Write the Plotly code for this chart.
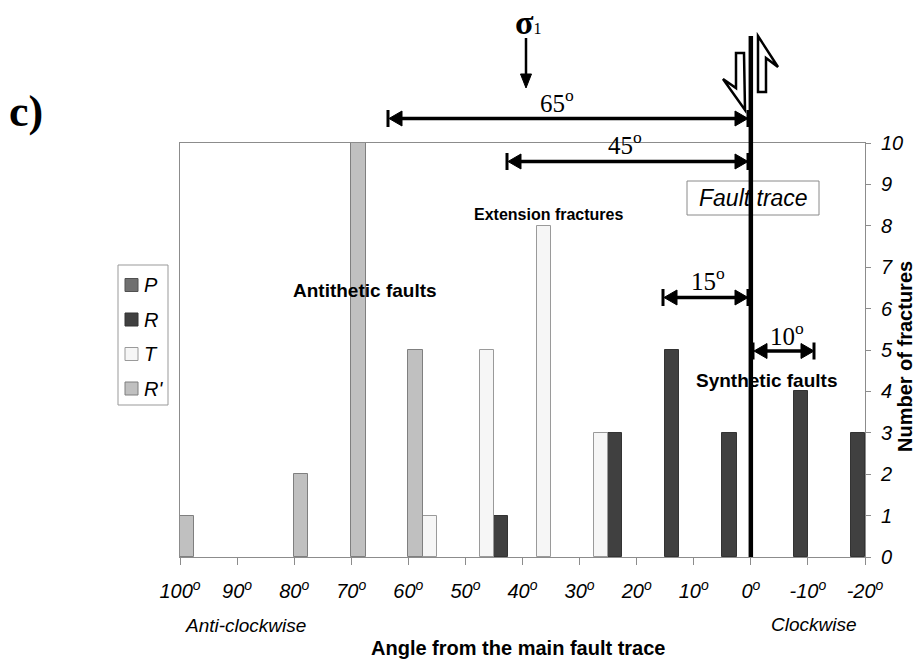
import plotly.graph_objects as go

# ---------------- data ----------------
# bins of 10 degrees, identified by their centre angle (100..-20 axis)
bin_centres = [95, 85, 75, 65, 55, 45, 35, 25, 15, 5, -5, -15]
p_counts = [None, None, None, None, None, None, None, None, None, None, None, None]
r_counts = [None, None, None, None, None, 1, None, 3, 5, 3, None, None]
t_counts = [None, None, None, None, 1, 5, 8, 3, None, None, None, None]
rprime_counts = [1, None, 2, 10, 5, None, None, None, None, None, None, None]
# R fractures on the clockwise side (drawn in the last slot of their bins)
r_clockwise_counts = [None, None, None, None, None, None, None, None, None, None, 4, 3]

tick_angles = [100, 90, 80, 70, 60, 50, 40, 30, 20, 10, 0, -10, -20]
tick_labels = [f"{a}<sup>o</sup>" for a in tick_angles]
y_ticks = [0, 1, 2, 3, 4, 5, 6, 7, 8, 9, 10]

series_names = ["P", "R", "T", "R'"]
fill_colors = {"P": "#707070", "R": "#404040", "T": "#f6f6f6", "R'": "#c0c0c0"}
line_colors = {"P": "#505050", "R": "#333333", "T": "#9a9a9a", "R'": "#7f7f7f"}

SANS = "Liberation Sans, Arial, sans-serif"
SERIF = "Liberation Serif, Times New Roman, serif"

W, H = 918, 661
ML, MR, MT, MB = 180, 53, 143, 104
PW, PH = W - ML - MR, H - MT - MB


def X(px):
    return (px - ML) / PW


def Y(py):
    return (H - MB - py) / PH


def poly(points):
    return "M " + " L ".join(f"{X(x):.5f},{Y(y):.5f}" for x, y in points) + " Z"


fig = go.Figure()

trace_data = [
    ("P", p_counts, "P"),
    ("R", r_counts, "R"),
    ("T", t_counts, "T"),
    ("R'", rprime_counts, "R'"),
    ("R", r_clockwise_counts, "P"),
]
for name, vals, group in trace_data:
    fig.add_trace(go.Bar(
        x=bin_centres, y=vals, name=name, offsetgroup=group,
        marker=dict(color=fill_colors[name], line=dict(color=line_colors[name], width=1)),
        showlegend=False, hoverinfo="skip",
    ))

shapes = []
annotations = []

# legend (manual)
shapes.append(dict(type="rect", xref="paper", yref="paper", x0=X(118), x1=X(168), y0=Y(265), y1=Y(405),
                   line=dict(color="#999999", width=1), fillcolor="white", layer="above"))
for i, name in enumerate(series_names):
    cy = 285 + i * 34.5
    shapes.append(dict(type="rect", xref="paper", yref="paper", x0=X(125), x1=X(138),
                       y0=Y(cy - 6.5), y1=Y(cy + 6.5),
                       line=dict(color=line_colors[name], width=1), fillcolor=fill_colors[name]))
    annotations.append(dict(text=name, x=X(142), y=Y(cy), xref="paper", yref="paper", showarrow=False,
                            xanchor="left", yanchor="middle",
                            font=dict(family=SANS, size=20, style="italic", color="black")))

# Fault trace box
shapes.append(dict(type="rect", xref="paper", yref="paper", x0=X(687), x1=X(819), y0=Y(181), y1=Y(215),
                   line=dict(color="#8a8a8a", width=1), fillcolor="white"))
annotations.append(dict(text="Fault trace", x=X(753), y=Y(198), xref="paper", yref="paper", showarrow=False,
                        xanchor="center", yanchor="middle",
                        font=dict(family=SANS, size=23, style="italic", color="black")))

# main fault line at 0 degrees
shapes.append(dict(type="line", xref="x", yref="paper", x0=0, x1=0, y0=0, y1=Y(36),
                   line=dict(color="black", width=4.5)))

# shear sense half arrows
shapes.append(dict(type="path", xref="paper", yref="paper",
                   path=poly([(744, 53), (736, 53), (736, 88), (723, 79), (745, 110)]),
                   line=dict(color="black", width=2.5), fillcolor="white"))
shapes.append(dict(type="path", xref="paper", yref="paper",
                   path=poly([(758, 92), (766, 92), (766, 58), (778, 67), (758, 36)]),
                   line=dict(color="black", width=2.5), fillcolor="white"))


def dim_arrow(xl, xr, y, head=13, half=7.5, bar=8.5):
    shapes.append(dict(type="line", xref="paper", yref="paper", x0=X(xl + 4), x1=X(xr - 4), y0=Y(y), y1=Y(y),
                       line=dict(color="black", width=3.5)))
    shapes.append(dict(type="path", xref="paper", yref="paper",
                       path=poly([(xl + 1, y), (xl + 1 + head, y - half), (xl + 1 + head, y + half)]),
                       line=dict(color="black", width=1), fillcolor="black"))
    shapes.append(dict(type="path", xref="paper", yref="paper",
                       path=poly([(xr, y), (xr - head, y - half), (xr - head, y + half)]),
                       line=dict(color="black", width=1), fillcolor="black"))
    for xb in (xl, xr):
        shapes.append(dict(type="line", xref="paper", yref="paper", x0=X(xb), x1=X(xb),
                           y0=Y(y - bar), y1=Y(y + bar), line=dict(color="black", width=3)))


dim_arrow(388, 748, 118.5)
dim_arrow(507, 748, 161.5)
dim_arrow(663, 748, 297.5)
dim_arrow(753, 814, 351)

for txt, cx, cy in [("65", 557, 101), ("45", 625, 143), ("15", 708, 279), ("10", 787, 334)]:
    annotations.append(dict(text=f"{txt}<sup>o</sup>", x=X(cx), y=Y(cy), xref="paper", yref="paper",
                            showarrow=False, xanchor="center", yanchor="middle",
                            font=dict(family=SERIF, size=25, color="black")))

# sigma 1 and its arrow
annotations.append(dict(text="<b>σ</b><span style='font-size:16px'>1</span>", x=X(528), y=Y(22),
                        xref="paper", yref="paper", showarrow=False, xanchor="center", yanchor="middle",
                        font=dict(family=SERIF, size=34, color="black")))
shapes.append(dict(type="line", xref="paper", yref="paper", x0=X(526), x1=X(526), y0=Y(38), y1=Y(77),
                   line=dict(color="black", width=2.5)))
shapes.append(dict(type="path", xref="paper", yref="paper",
                   path=poly([(526, 88), (520.5, 74), (531.5, 74)]),
                   line=dict(color="black", width=1), fillcolor="black"))

# panel label
annotations.append(dict(text="<b>c)</b>", x=X(26), y=Y(111), xref="paper", yref="paper", showarrow=False,
                        xanchor="center", yanchor="middle", font=dict(family=SERIF, size=44, color="black")))

# text labels
for txt, cx, cy, size, anchor in [
    ("Antithetic faults", 365, 290, 19, "center"),
    ("Extension fractures", 472, 214, 16, "left"),
    ("Synthetic faults", 766, 380, 19, "center"),
]:
    annotations.append(dict(text=f"<b>{txt}</b>", x=X(cx), y=Y(cy), xref="paper", yref="paper",
                            showarrow=False, xanchor=anchor, yanchor="middle",
                            font=dict(family=SANS, size=size, color="black")))

annotations.append(dict(text="Anti-clockwise", x=X(245), y=Y(625), xref="paper", yref="paper", showarrow=False,
                        xanchor="center", yanchor="middle",
                        font=dict(family=SANS, size=19, style="italic", color="black")))
annotations.append(dict(text="Clockwise", x=X(814), y=Y(624), xref="paper", yref="paper", showarrow=False,
                        xanchor="center", yanchor="middle",
                        font=dict(family=SANS, size=19, style="italic", color="black")))
annotations.append(dict(text="<b>Angle from the main fault trace</b>", x=X(518), y=Y(648), xref="paper",
                        yref="paper", showarrow=False, xanchor="center", yanchor="middle",
                        font=dict(family=SANS, size=20, color="black")))
annotations.append(dict(text="<b>Number of fractures</b>", x=X(905), y=Y(357), xref="paper", yref="paper",
                        showarrow=False, xanchor="center", yanchor="middle", textangle=-90,
                        font=dict(family=SANS, size=20, color="black")))

fig.update_layout(
    width=W, height=H, autosize=False,
    margin=dict(l=ML, r=MR, t=MT, b=MB, pad=0),
    paper_bgcolor="white", plot_bgcolor="white",
    barmode="group", bargap=0, bargroupgap=0,
    showlegend=False,
    shapes=shapes, annotations=annotations,
    xaxis=dict(range=[100, -20], tickmode="array", tickvals=tick_angles, ticktext=tick_labels,
               showgrid=False, zeroline=False, showline=True, linecolor="#8c8c8c", linewidth=1,
               mirror=True, ticks="outside", ticklen=7, tickcolor="#8c8c8c", ticklabelstandoff=9,
               tickfont=dict(family=SANS, size=20, style="italic", color="black")),
    yaxis=dict(range=[0, 10], side="right", tickmode="array", tickvals=y_ticks,
               showgrid=False, zeroline=False, showline=True, linecolor="#8c8c8c", linewidth=1,
               mirror=True, ticks="outside", ticklen=5, tickcolor="#8c8c8c", ticklabelstandoff=6,
               tickfont=dict(family=SANS, size=20, style="italic", color="black")),
)

fig.write_html("out.html")
